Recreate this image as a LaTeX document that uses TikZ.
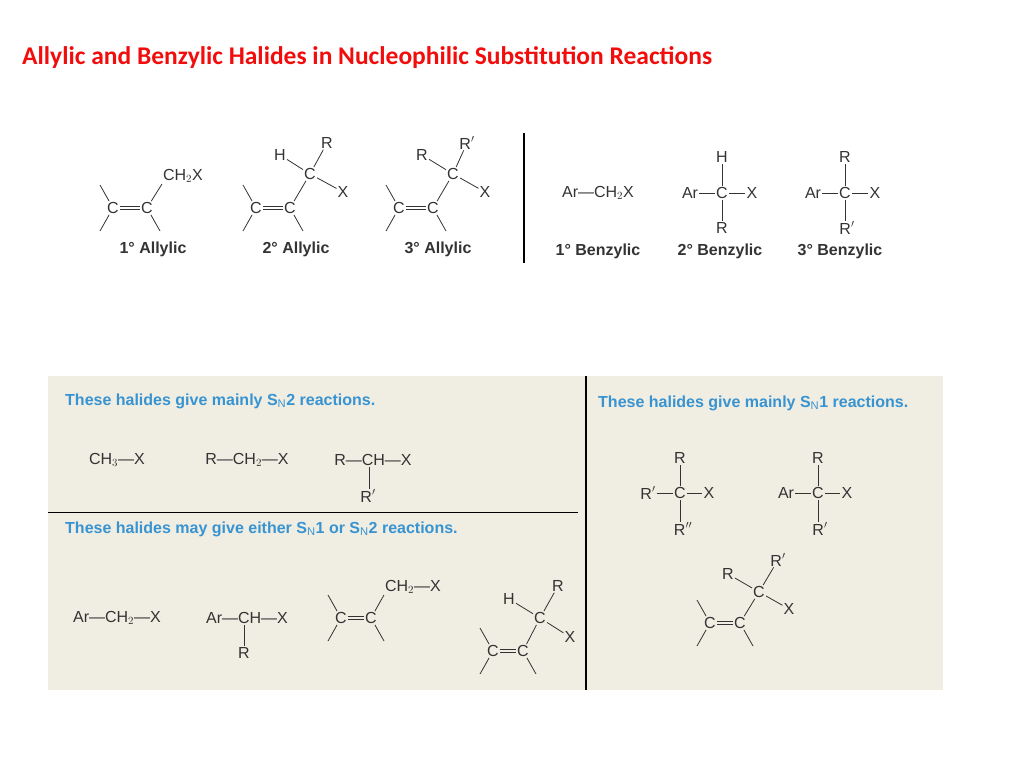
\documentclass[tikz,border=0pt]{standalone}
\usepackage{fontspec}
\setmainfont{Liberation Sans}
\newfontfamily\titlefont{Carlito}
\definecolor{titlered}{rgb}{0.95,0.05,0.05}
\definecolor{boxfill}{rgb}{0.94,0.93,0.89}
\definecolor{headblue}{rgb}{0.22,0.58,0.82}
\definecolor{inkgray}{rgb}{0.2,0.2,0.2}
\tikzset{
  atom/.style={inner sep=1pt, font=\fontsize{16}{16}\selectfont, text=inkgray},
  lbl/.style={inner sep=0pt, font=\bfseries\fontsize{16}{16}\selectfont, text=inkgray},
  head/.style={anchor=west, inner sep=0pt, font=\bfseries\fontsize{16}{16}\selectfont, text=headblue},
  bond/.style={draw=inkgray, line width=0.8pt}
}
% C=C with three free substituent lines; #1 name, (#2,#3) left C, #4 gap
\newcommand{\alkene}[4]{%
  \node[atom] (#1a) at (#2,#3) {C};
  \node[atom] (#1b) at (#2+#4,#3) {C};
  \draw[bond] ([yshift=-1.8pt]#1a.east) -- ([yshift=-1.8pt]#1b.west);
  \draw[bond] ([yshift=1.8pt]#1a.east) -- ([yshift=1.8pt]#1b.west);
  \coordinate (#1p) at (#2-13,#3-23);
  \coordinate (#1q) at (#2-13,#3+23);
  \coordinate (#1r) at (#2+#4+13,#3+23);
  \draw[bond] (#1a) -- (#1p);
  \draw[bond] (#1a) -- (#1q);
  \draw[bond] (#1b) -- (#1r);
}
\begin{document}
\begin{tikzpicture}[x=1pt,y=-1pt]
\useasboundingbox (0,0) rectangle (1024,768);
\node[anchor=west, inner sep=0pt, text=titlered, font=\titlefont\bfseries\fontsize{25.5}{25.5}\selectfont] (title) at (22,58) {Allylic and Benzylic Halides in Nucleophilic Substitution Reactions};

% allylic
\alkene{ap}{113}{208}{34}
\node[atom] (apx) at (183,176) {CH$_2$X};
\draw[bond] (apb) -- (apx.south west);
\node[lbl] (aplbl) at (153,249) {1° Allylic};

\alkene{as}{256}{208}{34}
\node[atom] (asc) at (310,174) {C};
\node[atom] (ash) at (280,155) {H};
\node[atom] (asr) at (327,143) {R};
\node[atom] (asx) at (343,192) {X};
\draw[bond] (asb) -- (asc);
\draw[bond] (asc) -- (ash);
\draw[bond] (asc) -- (asr);
\draw[bond] (asc) -- (asx);
\node[lbl] (aslbl) at (296,249) {2° Allylic};

\alkene{at}{399}{208}{34}
\node[atom] (atc) at (453,174) {C};
\node[atom] (atr) at (422,155) {R};
\node[atom] (atq) at (467,143) {R$'$};
\node[atom] (atx) at (485,192) {X};
\draw[bond] (atb) -- (atc);
\draw[bond] (atc) -- (atr);
\draw[bond] (atc) -- (atq);
\draw[bond] (atc) -- (atx);
\node[lbl] (atlbl) at (438,249) {3° Allylic};

\draw[line width=1.2pt] (524,133) -- (524,263);

% benzylic
\node[atom] (bp) at (598,193) {Ar—CH$_2$X};
\node[lbl] (bplbl) at (598,251) {1° Benzylic};
\node[atom] (bsc) at (722,193) {C};
\node[atom] (bsa) at (690,193) {Ar};
\node[atom] (bsx) at (752,193) {X};
\node[atom] (bsh) at (722,157) {H};
\node[atom] (bsr) at (722,228) {R};
\draw[bond] (bsc) -- (bsh);
\draw[bond] (bsc) -- (bsr);
\draw[bond] (bsa) -- (bsc);
\draw[bond] (bsc) -- (bsx);
\node[lbl] (bslbl) at (720,251) {2° Benzylic};
\node[atom] (btc) at (845,193) {C};
\node[atom] (bta) at (813,193) {Ar};
\node[atom] (btx) at (875,193) {X};
\node[atom] (btr) at (845,157) {R};
\node[atom] (btq) at (847,228) {R$'$};
\draw[bond] (btc) -- (btr);
\draw[bond] (btc) -- (btc |- btq.north);
\draw[bond] (bta) -- (btc);
\draw[bond] (btc) -- (btx);
\node[lbl] (btlbl) at (840,251) {3° Benzylic};

% lower panel
\fill[boxfill] (48,376) rectangle (943,690);
\draw[line width=1.2pt] (586,376) -- (586,690);
\draw[line width=1pt] (48,512) -- (578,512);
\node[head] (h2) at (65,401) {These halides give mainly S$_\mathrm{N}$2 reactions.};
\node[head] (h1) at (598,403) {These halides give mainly S$_\mathrm{N}$1 reactions.};
\node[head] (h12) at (65,529) {These halides may give either S$_\mathrm{N}$1 or S$_\mathrm{N}$2 reactions.};

% SN2 row
\node[atom] (m1) at (117,460) {CH$_3$—X};
\node[atom] (m2) at (247,460) {R—CH$_2$—X};
\node[atom] (m3) at (373,460) {R—CH—X};
\node[atom] (m3r) at (368,496) {R$'$};
\draw[bond] ([xshift=-4pt]m3.south) -- ([xshift=-4pt]m3.south |- m3r.north);

% SN1 or SN2 row
\node[atom] (n1) at (117,618) {Ar—CH$_2$—X};
\node[atom] (n2) at (247,618) {Ar—CH—X};
\node[atom] (n2r) at (244,653) {R};
\draw[bond] (n2r.north |- n2.south) -- (n2r);

\alkene{n3}{341}{618}{30}
\node[atom] (n3x) at (413,587) {CH$_2$—X};
\draw[bond] (n3b) -- (n3x.south west);

\alkene{n4}{493}{651}{30}
\node[atom] (n4c) at (540,618) {C};
\node[atom] (n4h) at (509,599) {H};
\node[atom] (n4r) at (558,586) {R};
\node[atom] (n4x) at (570,637) {X};
\draw[bond] (n4b) -- (n4c);
\draw[bond] (n4c) -- (n4h);
\draw[bond] (n4c) -- (n4r);
\draw[bond] (n4c) -- (n4x);

% SN1 column
\node[atom] (s1c) at (680,493) {C};
\node[atom] (s1a) at (648,493) {R$'$};
\node[atom] (s1x) at (709,493) {X};
\node[atom] (s1r) at (680,458) {R};
\node[atom] (s1q) at (683,529) {R$''$};
\draw[bond] (s1c) -- (s1r);
\draw[bond] (s1c) -- (s1c |- s1q.north);
\draw[bond] (s1a) -- (s1c);
\draw[bond] (s1c) -- (s1x);
\node[atom] (s2c) at (818,493) {C};
\node[atom] (s2a) at (786,493) {Ar};
\node[atom] (s2x) at (847,493) {X};
\node[atom] (s2r) at (818,458) {R};
\node[atom] (s2q) at (820,529) {R$'$};
\draw[bond] (s2c) -- (s2r);
\draw[bond] (s2c) -- (s2c |- s2q.north);
\draw[bond] (s2a) -- (s2c);
\draw[bond] (s2c) -- (s2x);

\alkene{s3}{710}{623}{30}
\node[atom] (s3c) at (759,592) {C};
\node[atom] (s3r) at (728,574) {R};
\node[atom] (s3q) at (778,560) {R$'$};
\node[atom] (s3x) at (789,609) {X};
\draw[bond] (s3b) -- (s3c);
\draw[bond] (s3c) -- (s3r);
\draw[bond] (s3c) -- (s3q);
\draw[bond] (s3c) -- (s3x);
\end{tikzpicture}
\end{document}
